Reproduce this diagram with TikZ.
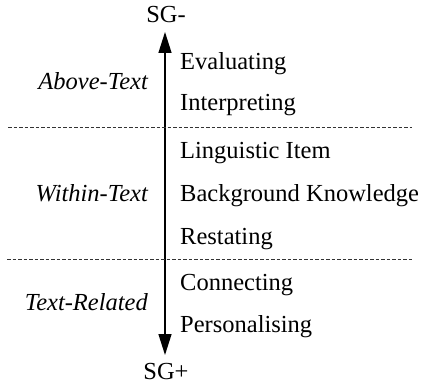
\documentclass[tikz,border=0pt]{standalone}
\usepackage{fontspec}
\setmainfont{Liberation Serif}
\usetikzlibrary{arrows.meta}
\begin{document}
\begin{tikzpicture}[x=1pt,y=1pt,
  every node/.style={inner sep=0pt,font=\fontsize{24.5}{28}\selectfont},
  item/.style={anchor=mid west},
  level/.style={anchor=mid east,font=\fontsize{24.5}{28}\selectfont\itshape},
  divider/.style={line width=0.7pt,dash pattern=on 3.5pt off 2pt,black!80},
  axisline/.style={line width=1.4pt,{Triangle[width=13pt,length=21pt]}-{Triangle[width=13pt,length=21pt]}}]
\useasboundingbox (0,0) rectangle (423,386);
% axis ends
\coordinate (top) at (165,354);
\coordinate (bot) at (165,31);
\node (sgminus) at (166,371) {SG-};
\node (sgplus) at (166,14) {SG+};
\draw[axisline] (bot) -- (top);
% level dividers
\coordinate (d1l) at (8,259);
\coordinate (d1r) at (412,259);
\coordinate (d2l) at (7,127);
\coordinate (d2r) at (413,127);
\draw[divider] (d1l) -- (d1r);
\draw[divider] (d2l) -- (d2r);
% level labels
\node[level] (above) at (148,299) {Above-Text};
\node[level] (within) at (148,187) {Within-Text};
\node[level] (related) at (148,78) {Text-Related};
% strategies
\node[item] (eval) at (180,319) {Evaluating};
\node[item] (interp) at (180,278) {Interpreting};
\node[item] (ling) at (180,230) {Linguistic Item};
\node[item] (back) at (180,187) {Background Knowledge};
\node[item] (rest) at (180,144) {Restating};
\node[item] (conn) at (180,98) {Connecting};
\node[item] (pers) at (180,56) {Personalising};
\end{tikzpicture}
\end{document}
